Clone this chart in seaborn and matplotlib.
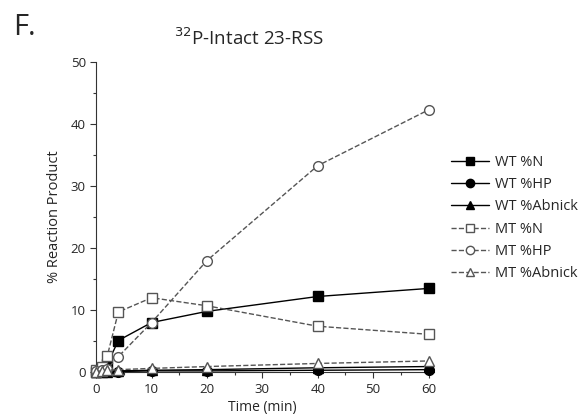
import matplotlib
matplotlib.use("Agg")
import matplotlib.pyplot as plt
import seaborn as sns
import pandas as pd
from matplotlib.ticker import MultipleLocator

time = [0, 1, 2, 4, 10, 20, 40, 60]
wt_n = [0.0, 0.5, 1.3, 5.1, 8.0, 9.8, 12.2, 13.5]
wt_hp = [0.0, 0.0, 0.0, 0.1, 0.2, 0.2, 0.3, 0.4]
wt_abnick = [0.0, 0.0, 0.1, 0.2, 0.3, 0.4, 0.7, 0.9]
mt_n = [0.3, 0.9, 2.6, 9.7, 12.0, 10.7, 7.4, 6.1]
mt_hp = [0.2, 0.3, 0.5, 2.5, 8.0, 18.0, 33.3, 42.3]
mt_abnick = [0.1, 0.2, 0.3, 0.4, 0.6, 0.9, 1.4, 1.8]

series_names = ["WT %N", "WT %HP", "WT %Abnick", "MT %N", "MT %HP", "MT %Abnick"]
series_vals = [wt_n, wt_hp, wt_abnick, mt_n, mt_hp, mt_abnick]

sns.set_style("ticks")
plt.rcParams['font.family'] = ['Open Sans', 'DejaVu Sans']

fig = plt.figure(figsize=(5.83, 4.2), dpi=100)
ax = fig.add_axes([0.165, 0.114, 0.57, 0.738])

styles = {
    "WT %N": dict(marker="s", ls="-", color="black", mfc="black", mec="black"),
    "WT %HP": dict(marker="o", ls="-", color="black", mfc="black", mec="black"),
    "WT %Abnick": dict(marker="^", ls="-", color="black", mfc="black", mec="black"),
    "MT %N": dict(marker="s", ls="--", color="#555555", mfc="white", mec="#555555"),
    "MT %HP": dict(marker="o", ls="--", color="#555555", mfc="white", mec="#555555"),
    "MT %Abnick": dict(marker="^", ls="--", color="#555555", mfc="white", mec="#555555"),
}

for name, vals in zip(series_names, series_vals):
    st = styles[name]
    df = pd.DataFrame({"Time": time, "Value": vals})
    sns.lineplot(data=df, x="Time", y="Value", ax=ax, label=name,
                 color=st["color"], linestyle=st["ls"], linewidth=1.0,
                 marker=st["marker"], markersize=7, markerfacecolor=st["mfc"],
                 markeredgecolor=st["mec"], markeredgewidth=1.0,
                 clip_on=False, zorder=3)

ax.set_xlim(0, 60)
ax.set_ylim(0, 50)
ax.xaxis.set_major_locator(MultipleLocator(10))
ax.xaxis.set_minor_locator(MultipleLocator(5))
ax.yaxis.set_major_locator(MultipleLocator(10))
ax.yaxis.set_minor_locator(MultipleLocator(5))
ax.tick_params(axis="both", which="major", length=4, width=0.8, labelsize=9.5, color="#333333")
ax.tick_params(axis="both", which="minor", length=2.5, width=0.8, color="#333333")
for s in ["top", "right"]:
    ax.spines[s].set_visible(False)
for s in ["left", "bottom"]:
    ax.spines[s].set_linewidth(0.8)
    ax.spines[s].set_color("#333333")

ax.set_xlabel("Time (min)", fontsize=10, labelpad=3)
ax.set_ylabel("% Reaction Product", fontsize=10.5, labelpad=6)
ax.set_title(r"$^{32}$P-Intact 23-RSS", fontsize=13.5, pad=12, x=0.46)

leg = ax.legend(loc="upper left", bbox_to_anchor=(1.05, 0.72), frameon=False,
                fontsize=10.5, handlelength=2.6, handletextpad=0.4,
                labelspacing=0.5, borderaxespad=0)
for line in leg.get_lines():
    line.set_markersize(6)

fig.text(0.022, 0.935, "F.", fontsize=21, ha="left", va="center")

fig.savefig("out.png", dpi=100)
